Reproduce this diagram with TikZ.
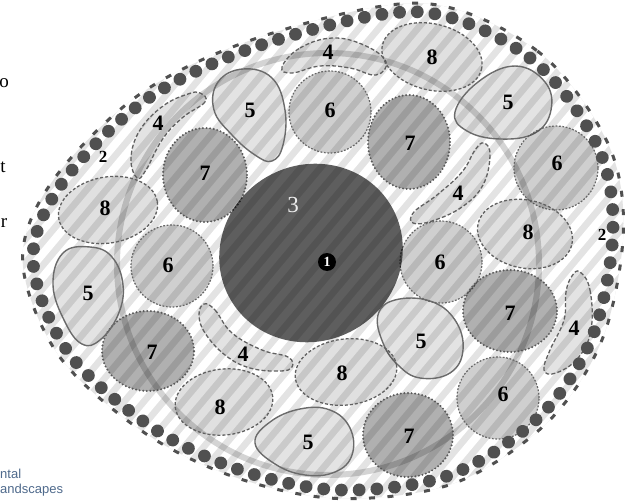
\documentclass[tikz,border=0pt]{standalone}
\usepackage{fontspec}
\setmainfont{Liberation Serif}
\setsansfont{Liberation Sans}
\usetikzlibrary{decorations.markings}
\definecolor{bgbase}{HTML}{E3E3E3}
\definecolor{dotc}{HTML}{505050}
\definecolor{txtblue}{HTML}{4F6A8C}
\begin{document}
\begin{tikzpicture}[x=1pt,y=-1pt,
 s4/.style={fill=black, fill opacity=0.11, draw=black!62, line width=1.3pt, dash pattern=on 4pt off 2.2pt},
 s5/.style={fill=black, fill opacity=0.11, draw=black!58, line width=1.4pt},
 s6/.style={fill=black, fill opacity=0.19, draw=black!60, line width=1.2pt, dash pattern=on 1.8pt off 1.6pt},
 s7/.style={fill=black, fill opacity=0.31, draw=black!65, line width=2.2pt, line cap=round, dash pattern=on 0pt off 3.6pt},
 s8/.style={fill=black, fill opacity=0.12, draw=black!62, line width=1.3pt, dash pattern=on 3pt off 2pt},
 num/.style={font=\fontsize{22}{22}\selectfont\bfseries, text=black, inner sep=0pt},
 sidetxt/.style={font=\fontsize{19}{19}\selectfont, text=black, inner sep=0pt},
 captxt/.style={font=\sffamily\fontsize{13}{13}\selectfont, text=txtblue, inner sep=0pt, anchor=base west},
]
\def\eggpath{plot[smooth cycle, tension=0.55] coordinates {(420,12) (530,58) (597,145) (613,230) (593,335) (540,416) (450,475) (340,490) (240,470) (150,426) (68,352) (33,260) (63,182) (150,97) (270,42)}}
\fill[white] (0,0) rectangle (641,503);
\useasboundingbox (0,0) rectangle (641,503);

% striped background inside the egg
\begin{scope}
 \clip[shift={(323,251)}, scale=1.036, shift={(-323,-251)}] \eggpath;
 \fill[bgbase] (0,0) rectangle (641,503);
 \begin{scope}[rotate around={-40:(320,250)}]
  \foreach \k in {-32,...,32}
   \draw[white, line width=8pt] ({320+\k*15},-200) -- ({320+\k*15},700);
 \end{scope}
\end{scope}

% faint large ring
\draw[black, draw opacity=0.17, line width=6pt] (328,264) circle [radius=211pt];

% blobs
\path[s4] plot[smooth cycle, tension=0.7] coordinates {(282,67) (300,48) (333,38) (366,46) (386,62) (376,75) (350,68) (320,66) (292,73)};
\path[s8, rotate around={-14:(432,57)}] (432,57) ellipse [x radius=51pt, y radius=33pt];
\path[s5] plot[smooth cycle, tension=0.7] coordinates {(243,69) (272,78) (285,110) (283,145) (272,161) (255,155) (232,135) (214,110) (218,82)};
\path[s6] (330,112) circle [radius=41pt];
\path[s4] plot[smooth cycle, tension=0.7] coordinates {(200,93) (205,102) (182,118) (162,140) (146,170) (137,178) (131,158) (140,130) (163,106) (188,94)};
\path[s7] (205,175) ellipse [x radius=42pt, y radius=47pt];
\path[s7] (409,142) ellipse [x radius=41pt, y radius=47pt];
\path[s5] plot[smooth cycle, tension=0.7] coordinates {(455,112) (478,82) (515,66) (545,82) (551,110) (535,133) (500,139) (467,131)};
\path[s6] (556,168) circle [radius=42pt];
\path[s4] plot[smooth cycle, tension=0.7] coordinates {(484,143) (490,155) (483,185) (462,207) (432,221) (413,223) (414,212) (437,195) (462,172) (475,150)};
\path[s8, rotate around={-12:(525,234)}] (525,234) ellipse [x radius=48pt, y radius=34pt];
\path[s6] (441,262) circle [radius=41pt];
\path[s7] (510,311) ellipse [x radius=47pt, y radius=41pt];
\path[s4] plot[smooth cycle, tension=0.7] coordinates {(580,272) (590,290) (591,330) (578,358) (556,373) (544,370) (550,350) (564,320) (566,292) (572,276)};
\path[s5] plot[smooth cycle, tension=0.7] coordinates {(378,315) (395,300) (430,301) (455,320) (463,350) (450,373) (420,378) (398,365) (383,343)};
\path[s6] (498,398) circle [radius=41pt];
\path[s7] (408,435) ellipse [x radius=45pt, y radius=42pt];
\path[s5] plot[smooth cycle, tension=0.7] coordinates {(255,443) (270,422) (300,409) (330,410) (350,428) (352,455) (335,472) (305,475) (275,464)};
\path[s8, rotate around={7:(346,372)}] (346,372) ellipse [x radius=51pt, y radius=33pt];
\path[s8, rotate around={6:(224,402)}] (224,402) ellipse [x radius=49pt, y radius=33pt];
\path[s4] plot[smooth cycle, tension=0.7] coordinates {(204,304) (215,310) (232,333) (262,350) (288,357) (292,367) (280,371) (250,368) (225,355) (205,333) (199,315)};
\path[s7] (148,351) ellipse [x radius=46pt, y radius=40pt];
\path[s6] (172,266) circle [radius=41pt];
\path[s5] plot[smooth cycle, tension=0.7] coordinates {(63,253) (90,247) (112,257) (123,285) (118,315) (100,340) (82,344) (65,322) (53,285)};
\path[s8, rotate around={10:(108,210)}] (108,210) ellipse [x radius=50pt, y radius=33pt];

% central dark ellipse
\path[fill=black, fill opacity=0.63, rotate around={30:(311,253)}] (311,253) ellipse [x radius=93pt, y radius=88pt];

% dot ring and outer dashed line
\path[postaction={decorate, decoration={markings, mark=between positions 0 and 0.995 step 0.010753 with {\fill[dotc] (0,0) circle [radius=6.4pt];}}}] \eggpath;
\draw[dotc, line width=3pt, dash pattern=on 6pt off 12.5pt, shift={(323,251)}, scale=1.036, shift={(-323,-251)}] \eggpath;

% labels
\node[num] (l4a) at (328,52) {4};
\node[num] (l8a) at (432,57) {8};
\node[num] (l5a) at (250,110) {5};
\node[num] (l6a) at (330,110) {6};
\node[num] (l4b) at (158,123) {4};
\node[num] (l7a) at (205,173) {7};
\node[num] (l7b) at (410,143) {7};
\node[num] (l5b) at (508,102) {5};
\node[num] (l6b) at (557,163) {6};
\node[num] (l4c) at (458,193) {4};
\node[num] (l8b) at (528,232) {8};
\node[num] (l6c) at (440,262) {6};
\node[num] (l7c) at (510,313) {7};
\node[num] (l4d) at (574,328) {4};
\node[num] (l5c) at (421,341) {5};
\node[num] (l6d) at (503,394) {6};
\node[num] (l7d) at (409,436) {7};
\node[num] (l5d) at (308,442) {5};
\node[num] (l8c) at (342,373) {8};
\node[num] (l8d) at (220,407) {8};
\node[num] (l4e) at (243,354) {4};
\node[num] (l7e) at (152,352) {7};
\node[num] (l6e) at (168,265) {6};
\node[num] (l5e) at (88,293) {5};
\node[num] (l8e) at (105,208) {8};
\node[num, font=\fontsize{17}{17}\selectfont\bfseries] (two1) at (103,157) {2};
\node[num, font=\fontsize{17}{17}\selectfont\bfseries] (two2) at (602,235) {2};
\node[num, font=\fontsize{23}{23}\selectfont, text=white!93!black] (three) at (293,205) {3};
\node[circle, fill=black, minimum size=18pt, inner sep=0pt, text=white, font=\fontsize{14}{14}\selectfont\bfseries] (one) at (327,262) {1};

% side texts
\node[sidetxt] (sa) at (4,83) {o};
\node[sidetxt] (sb) at (3,167) {t};
\node[sidetxt] (sc) at (4,223) {r};
\node[captxt] (ca) at (0,478) {ntal};
\node[captxt] (cb) at (0,493) {andscapes};
\end{tikzpicture}
\end{document}
